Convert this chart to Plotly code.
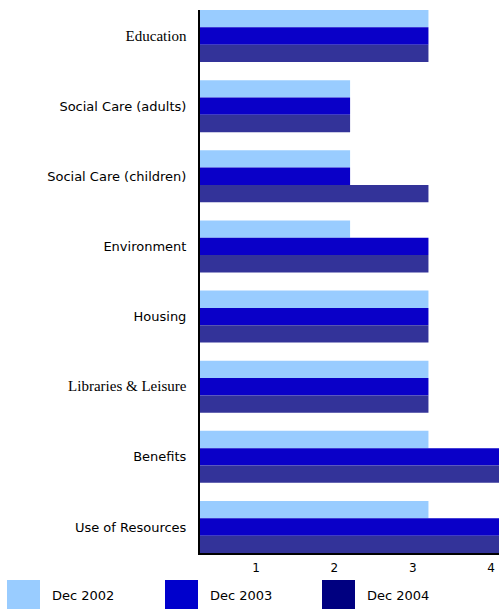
import plotly.graph_objects as go

categories = ["Education", "Social Care (adults)", "Social Care (children)", "Environment",
              "Housing", "Libraries & Leisure", "Benefits", "Use of Resources"]
serif_labels = {"Education", "Libraries & Leisure"}
dec2002 = [3.2, 2.2, 2.2, 2.2, 3.2, 3.2, 3.2, 3.2]
dec2003 = [3.2, 2.2, 2.2, 3.2, 3.2, 3.2, 4.2, 4.2]
dec2004 = [3.2, 2.2, 3.2, 3.2, 3.2, 3.2, 4.2, 4.2]
series_names = ["Dec 2002", "Dec 2003", "Dec 2004"]
bar_colors = ["#99CCFF", "#0A00C8", "#333399"]
legend_colors = ["#99CCFF", "#0000CC", "#000080"]
x_ticks = [1, 2, 3, 4]

W, H = 499, 609
L, R, T, B = 200, 0, 10, 56
pw, ph = W - L - R, H - T - B
SANS = "DejaVu Sans, Arial, sans-serif"

fig = go.Figure()
for name, vals, col in zip(series_names, [dec2002, dec2003, dec2004], bar_colors):
    fig.add_trace(go.Bar(y=categories, x=vals, orientation="h", name=name,
                         marker=dict(color=col, line=dict(width=0)), showlegend=False))

ticktext = []
for c in categories:
    if c in serif_labels:
        ticktext.append('<span style="font-family:\'Liberation Serif\', serif; font-size:15px">%s</span>' % c.replace("&", "&amp;"))
    else:
        ticktext.append(c.replace("&", "&amp;"))

g = 0.257
half = (1 - g) / 2
fig.update_layout(
    width=W, height=H,
    margin=dict(l=L, r=R, t=T, b=B, autoexpand=False),
    paper_bgcolor="white", plot_bgcolor="white",
    barmode="group", bargap=g, bargroupgap=0,
    font=dict(family=SANS, size=13, color="black"),
    xaxis=dict(range=[0.285, 4.1], tickvals=x_ticks, ticktext=[str(v) for v in x_ticks],
               showgrid=False, zeroline=False, showline=True, linecolor="black", linewidth=2,
               ticks="", ticklabelstandoff=3, tickfont=dict(size=12), automargin=False),
    yaxis=dict(range=[len(categories) - 1 + half, -half], tickvals=categories, ticktext=ticktext,
               showgrid=False, zeroline=False, showline=True, linecolor="black", linewidth=2,
               ticks="", ticklabelstandoff=9, tickfont=dict(size=13), automargin=False),
)

# custom legend
sw_x = [7, 165, 322]
for name, col, x0 in zip(series_names, legend_colors, sw_x):
    fig.add_shape(type="rect", xref="paper", yref="paper",
                  x0=(x0 - L) / pw, x1=(x0 + 33 - L) / pw,
                  y0=(H - B - 609) / ph, y1=(H - B - 580) / ph,
                  fillcolor=col, line=dict(color=col, width=0))
    fig.add_annotation(xref="paper", yref="paper", x=(x0 + 43 - L) / pw, y=(H - B - 595) / ph,
                       text=name, showarrow=False, xanchor="left", yanchor="middle",
                       font=dict(size=13))

fig.write_html("out.html", config={"displayModeBar": False},
               post_script="document.body.style.margin='0';document.body.style.overflow='hidden';")
